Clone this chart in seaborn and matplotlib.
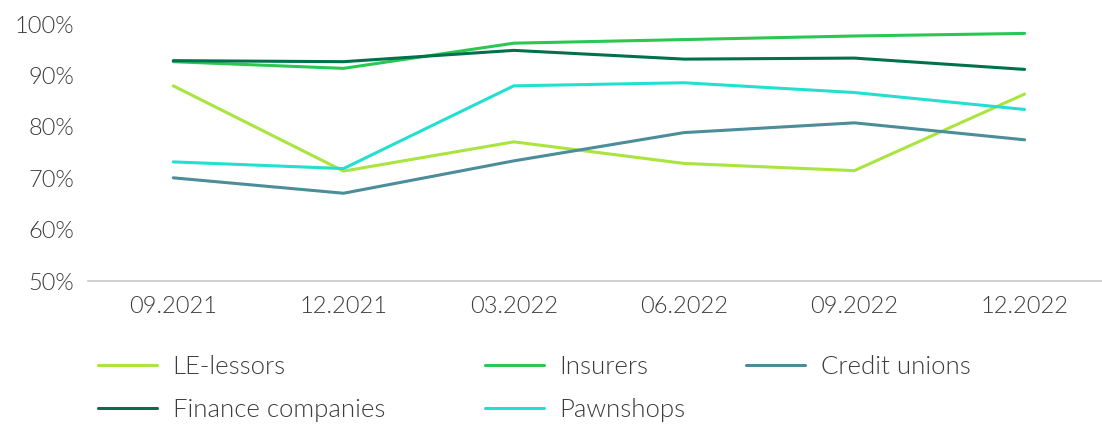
import pandas as pd
import seaborn as sns
import matplotlib.pyplot as plt
from matplotlib.ticker import PercentFormatter

# Share of ... by type of institution, quarterly
periods = ["09.2021", "12.2021", "03.2022", "06.2022", "09.2022", "12.2022"]
le_lessors = [88.0, 71.4, 77.1, 72.9, 71.5, 86.4]
insurers = [92.7, 91.4, 96.3, 97.0, 97.7, 98.2]
credit_unions = [70.1, 67.1, 73.4, 78.9, 80.8, 77.5]
finance_companies = [92.9, 92.7, 94.9, 93.2, 93.4, 91.2]
pawnshops = [73.2, 71.9, 88.0, 88.6, 86.7, 83.4]

series = {
    "LE-lessors": le_lessors,
    "Insurers": insurers,
    "Credit unions": credit_unions,
    "Finance companies": finance_companies,
    "Pawnshops": pawnshops,
}
colors = {
    "LE-lessors": "#a9e43f",
    "Insurers": "#2cc653",
    "Credit unions": "#4b8d99",
    "Finance companies": "#00714c",
    "Pawnshops": "#22e0d0",
}

df = pd.DataFrame(
    [(p, name, v) for name, vals in series.items() for p, v in zip(periods, vals)],
    columns=["period", "type", "value"],
)

sns.set_style("white")
plt.rcParams["font.family"] = ["Lato", "DejaVu Sans"]
plt.rcParams["font.weight"] = 300

fig = plt.figure(figsize=(11.02, 4.24), dpi=100)
ax = fig.add_axes([0.08, 0.337, 0.927, 0.606])

sns.lineplot(data=df, x="period", y="value", hue="type", palette=colors,
             linewidth=2.2, sort=False, ax=ax, legend=True)

ax.set_xlim(-0.5, 5.5)
ax.set_ylim(50, 100)
ax.set_yticks(range(50, 101, 10))
ax.yaxis.set_major_formatter(PercentFormatter(decimals=0))
ax.set_xlabel("")
ax.set_ylabel("")
ax.tick_params(axis="both", length=0, labelsize=17, labelcolor="#3c3c3c")
ax.tick_params(axis="x", pad=11)
ax.tick_params(axis="y", pad=10)
for s in ["top", "right", "left"]:
    ax.spines[s].set_visible(False)
ax.spines["bottom"].set_color("#c8c8c8")
ax.spines["bottom"].set_linewidth(1.2)

# legend in three fixed-width columns, like the original
handles, labels = ax.get_legend_handles_labels()
lookup = dict(zip(labels, handles))
ax.get_legend().remove()
columns = [(["LE-lessors", "Finance companies"], 0.068),
           (["Insurers", "Pawnshops"], 0.419),
           (["Credit unions"], 0.656)]
for names, x0 in columns:
    fig.legend([lookup[k] for k in names], names, frameon=False,
               loc="upper left", bbox_to_anchor=(x0, 0.217),
               fontsize=18.5, labelcolor="#3c3c3c", handlelength=2.3,
               handletextpad=0.6, labelspacing=0.75)

fig.savefig("out.png", dpi=100)
